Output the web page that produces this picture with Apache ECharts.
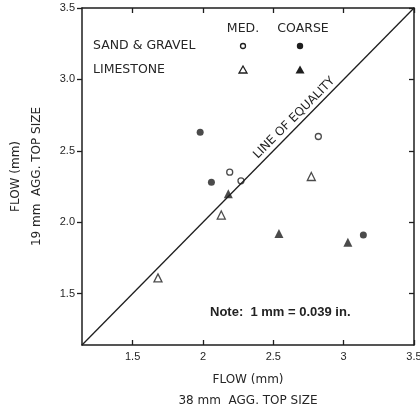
<!DOCTYPE html>
<html><head><meta charset="utf-8">
<script src="https://cdn.jsdelivr.net/npm/echarts@6/dist/echarts.min.js"></script>
<style>html,body{margin:0;padding:0;background:#fff}#c{width:420px;height:410px}</style>
</head><body><div id="c"></div>
<script>
// ---- data ----
const axisRange = [1.14, 3.5];
const xTicks = [1.5, 2, 2.5, 3, 3.5];
const xTickLabels = ['1.5', '2', '2.5', '3', '3.5'];
const yTicks = [1.5, 2, 2.5, 3, 3.5];
const yTickLabels = ['1.5', '2.0', '2.5', '3.0', '3.5'];
const sandMed = [[2.19, 2.35], [2.27, 2.29], [2.82, 2.60]];
const sandCoarse = [[1.98, 2.63], [2.06, 2.28], [3.14, 1.91]];
const limeMed = [[1.68, 1.61], [2.13, 2.05], [2.77, 2.32]];
const limeCoarse = [[2.18, 2.20], [2.54, 1.92], [3.03, 1.86]];
const equalityLabelAt = 2.69;
const xTitle = 'FLOW (mm)\n38 mm  AGG. TOP SIZE';
const yTitle = 'FLOW (mm)\n19 mm  AGG. TOP SIZE';
const rowNames = ['SAND & GRAVEL', 'LIMESTONE'];
const colNames = ['MED.', 'COARSE'];
const noteText = 'Note:  1 mm = 0.039 in.';

const INK = '#1e1e1e';
const TXT = '#262626';
const lblFont = 'Liberation Sans';
const titleFont = 'DejaVu Sans';

const chart = echarts.init(document.getElementById('c'), null, {renderer: 'canvas'});

function mkAxis(isX, pos, main) {
  const ticks = isX ? xTicks : yTicks;
  const labels = isX ? xTickLabels : yTickLabels;
  return {
    type: 'value', position: pos, min: axisRange[0], max: axisRange[1],
    splitLine: {show: false},
    axisLine: {show: true, onZero: false, lineStyle: {color: INK, width: 1.5}},
    axisTick: {show: true, customValues: ticks, inside: isX || !main, length: 5,
      lineStyle: {color: INK, width: 1.3}},
    axisLabel: {show: main, customValues: ticks, margin: isX ? 6 : 7, hideOverlap: false,
      fontFamily: lblFont, fontSize: 11, color: TXT,
      formatter: v => { const i = ticks.findIndex(t => Math.abs(t - v) < 1e-6); return i >= 0 ? labels[i] : ''; }},
    name: main ? (isX ? xTitle : yTitle) : '',
    nameLocation: 'middle',
    nameGap: isX ? 24 : 35,
    nameRotate: isX ? 0 : 90,
    nameTextStyle: {fontFamily: titleFont, fontSize: 12, color: TXT, lineHeight: 21, align: 'center'}
  };
}

const symStyle = (open) => open
  ? {color: '#fff', borderColor: INK, borderWidth: 1.3}
  : {color: INK};

chart.setOption({
  animation: false,
  backgroundColor: '#fff',
  grid: {left: 82, right: 6, top: 8, bottom: 65, containLabel: false, outerBoundsMode: 'none'},
  xAxis: [mkAxis(true, 'bottom', true), mkAxis(true, 'top', false)],
  yAxis: [mkAxis(false, 'left', true), mkAxis(false, 'right', false)],
  series: [
    {type: 'line', data: [[axisRange[0], axisRange[0]], [axisRange[1], axisRange[1]]],
     symbol: 'none', silent: true, lineStyle: {color: INK, width: 1.3}},
    {type: 'scatter', name: 'sandMed', data: sandMed, symbol: 'circle', symbolSize: 6, itemStyle: symStyle(true)},
    {type: 'scatter', name: 'sandCoarse', data: sandCoarse, symbol: 'circle', symbolSize: 7, itemStyle: symStyle(false)},
    {type: 'scatter', name: 'limeMed', data: limeMed, symbol: 'triangle', symbolSize: 8, itemStyle: symStyle(true)},
    {type: 'scatter', name: 'limeCoarse', data: limeCoarse, symbol: 'triangle', symbolSize: 9, itemStyle: symStyle(false)}
  ]
});

const p = chart.convertToPixel({xAxisIndex: 0, yAxisIndex: 0}, [equalityLabelAt, equalityLabelAt]);
const legX = [243, 300], legY = [46, 70];
const gfx = [
  {type: 'text', x: p[0] - 1.5, y: p[1] - 1.5, rotation: Math.PI / 4,
   style: {text: 'LINE OF EQUALITY', x: 0, y: 0, align: 'center', verticalAlign: 'bottom',
           font: '12px "DejaVu Sans"', fill: TXT}},
  {type: 'text', x: 210, y: 312, style: {text: noteText, align: 'left', verticalAlign: 'middle',
           font: 'bold 13px "Liberation Sans"', fill: '#222'}},
  {type: 'text', x: 93, y: legY[0], style: {text: rowNames[0], verticalAlign: 'middle', font: '12.5px "DejaVu Sans"', fill: TXT}},
  {type: 'text', x: 93, y: legY[1], style: {text: rowNames[1], verticalAlign: 'middle', font: '12.5px "DejaVu Sans"', fill: TXT}},
  {type: 'text', x: legX[0], y: 29, style: {text: colNames[0], align: 'center', verticalAlign: 'middle', font: '12.5px "DejaVu Sans"', fill: TXT}},
  {type: 'text', x: legX[1] + 3, y: 29, style: {text: colNames[1], align: 'center', verticalAlign: 'middle', font: '12.5px "DejaVu Sans"', fill: TXT}},
  {type: 'circle', shape: {cx: legX[0], cy: legY[0], r: 2.5}, style: {fill: '#fff', stroke: INK, lineWidth: 1.3}},
  {type: 'circle', shape: {cx: legX[1], cy: legY[0], r: 3.2}, style: {fill: INK}},
  {type: 'polygon', shape: {points: [[legX[0], legY[1] - 4], [legX[0] + 4, legY[1] + 3], [legX[0] - 4, legY[1] + 3]]}, style: {fill: '#fff', stroke: INK, lineWidth: 1.3}},
  {type: 'polygon', shape: {points: [[legX[1], legY[1] - 4.5], [legX[1] + 4.5, legY[1] + 3.5], [legX[1] - 4.5, legY[1] + 3.5]]}, style: {fill: INK}}
];
chart.setOption({graphic: gfx});
</script></body></html>
